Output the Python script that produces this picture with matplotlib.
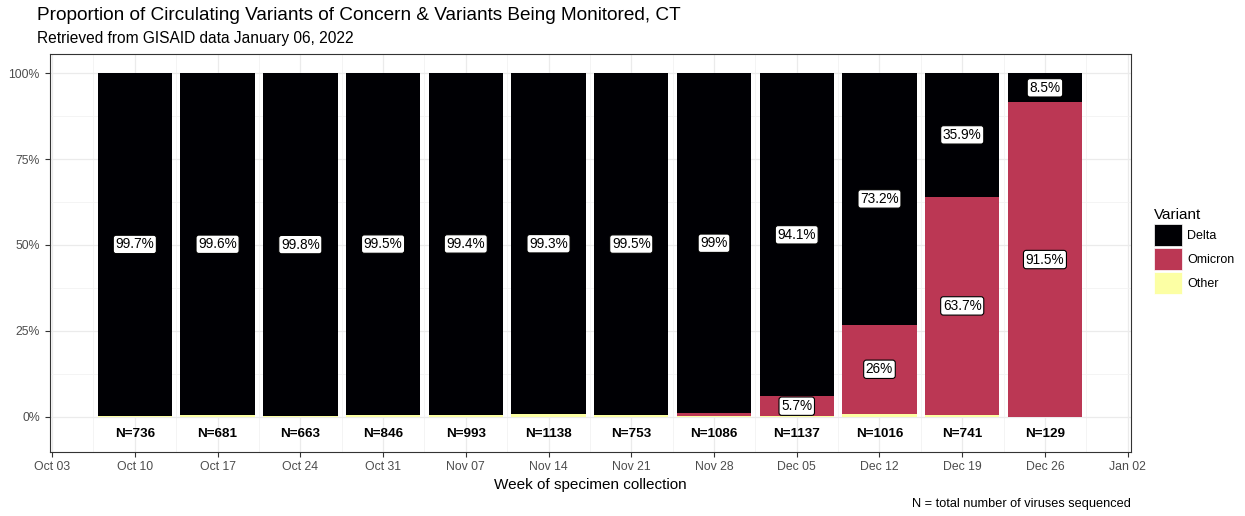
import matplotlib
matplotlib.use("Agg")
import matplotlib.pyplot as plt
import matplotlib.dates as mdates
import numpy as np
import pandas as pd
from matplotlib.patches import Patch

plt.rcParams["font.family"] = ["Liberation Sans", "DejaVu Sans"]

weeks = pd.to_datetime([
    "2021-10-10", "2021-10-17", "2021-10-24", "2021-10-31", "2021-11-07", "2021-11-14",
    "2021-11-21", "2021-11-28", "2021-12-05", "2021-12-12", "2021-12-19", "2021-12-26",
])
delta = [99.7, 99.6, 99.8, 99.5, 99.4, 99.3, 99.5, 99.0, 94.1, 73.2, 35.9, 8.5]
omicron = [0.0, 0.0, 0.0, 0.0, 0.0, 0.0, 0.0, 0.9, 5.7, 26.0, 63.7, 91.5]
other = [0.3, 0.4, 0.2, 0.5, 0.6, 0.7, 0.5, 0.1, 0.2, 0.8, 0.4, 0.0]
n_seq = [736, 681, 663, 846, 993, 1138, 753, 1086, 1137, 1016, 741, 129]

variants = ["Delta", "Omicron", "Other"]
colors = {"Delta": "#000004", "Omicron": "#BB3754", "Other": "#FCFFA4"}

W, H = 1245, 516
fig = plt.figure(figsize=(W / 100, H / 100), dpi=100)
ax = fig.add_axes([49.5 / W, (H - 451.7) / H, (1131 - 49.5) / W, (451.7 - 54) / H])

x = mdates.date2num(weeks)
width = 6.3

# stack: Other at bottom, then Omicron, then Delta on top
series = {"Delta": np.array(delta) / 100, "Omicron": np.array(omicron) / 100,
          "Other": np.array(other) / 100}
bottom = np.zeros(len(x))
for name in ["Other", "Omicron", "Delta"]:
    vals = series[name]
    ax.bar(x, vals, width=width, bottom=bottom, color=colors[name], linewidth=0, zorder=3)
    for xi, b, v in zip(x, bottom, vals):
        if v * 100 >= 5:
            ax.text(xi, b + v / 2, f"{v * 100:g}%", ha="center", va="center",
                    fontsize=9.8, color="black", zorder=5,
                    bbox=dict(boxstyle="round,pad=0.16,rounding_size=0.2",
                              fc="white", ec="black", lw=0.8))
    bottom = bottom + vals

for xi, n in zip(x, n_seq):
    ax.text(xi, -0.051, f"N={n}", ha="center", va="center", fontsize=9.7,
            fontweight="bold", color="black", zorder=5)

ax.set_ylim(-0.102, 1.056)

xt = mdates.date2num(pd.date_range("2021-10-03", "2022-01-02", freq="7D"))
ax.set_xlim(xt[0] - 0.22, xt[-1] + 0.28)

ax.set_yticks([0, 0.25, 0.5, 0.75, 1.0])
ax.set_yticklabels(["0%", "25%", "50%", "75%", "100%"])
ax.set_yticks([0.125, 0.375, 0.625, 0.875], minor=True)

ax.set_xticks(xt)
ax.set_xticklabels([d.strftime("%b %d") for d in mdates.num2date(xt)])
ax.set_xticks(xt[:-1] + 3.5, minor=True)

ax.grid(True, which="major", color="#EBEBEB", lw=0.9, zorder=0)
ax.grid(True, which="minor", color="#F3F3F3", lw=0.6, zorder=0)
ax.set_axisbelow(True)
for s in ax.spines.values():
    s.set_color("#333333")
    s.set_linewidth(0.8)
ax.tick_params(which="major", length=3.5, color="#333333", labelsize=8.8,
               labelcolor="#4D4D4D")
ax.tick_params(which="minor", length=0)

ax.set_xlabel("Week of specimen collection", fontsize=11, labelpad=3)

fig.text(37 / W, 1 - 15 / H, "Proportion of Circulating Variants of Concern & Variants Being Monitored, CT",
         fontsize=13.7, va="center", ha="left")
fig.text(37 / W, 1 - 39 / H, "Retrieved from GISAID data January 06, 2022",
         fontsize=11.2, va="center", ha="left")
fig.text(1131 / W, 1 - 504 / H, "N = total number of viruses sequenced",
         fontsize=9.2, va="center", ha="right")

handles = [Patch(facecolor=colors[v], edgecolor="white", linewidth=0.5, label=v) for v in variants]
leg = fig.legend(handles=handles, title="Variant", loc="upper left",
                 bbox_to_anchor=(1154 / W, 1 - 208 / H), frameon=False,
                 fontsize=9, title_fontsize=11, handlelength=2.2, handleheight=2.4,
                 labelspacing=0.12, handletextpad=0.45, borderpad=0, borderaxespad=0,
                 alignment="left")

fig.savefig("out.png", dpi=100)
